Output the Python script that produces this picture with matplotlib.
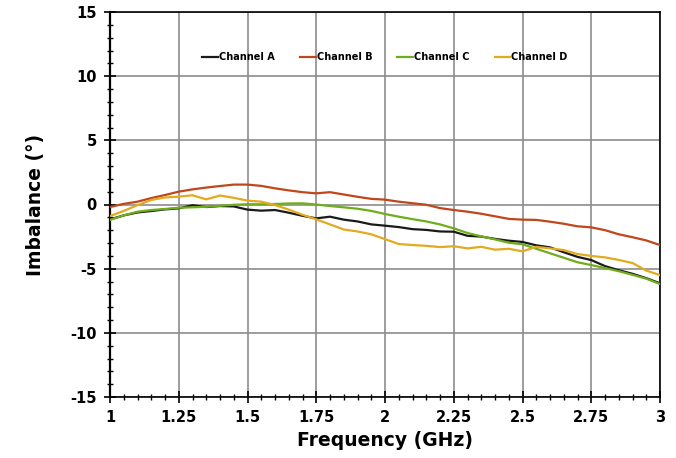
import matplotlib
matplotlib.use("Agg")
import matplotlib.pyplot as plt
from matplotlib.ticker import MultipleLocator, FixedLocator

freq = [1.00, 1.05, 1.10, 1.15, 1.20, 1.25, 1.30, 1.35, 1.40, 1.45,
        1.50, 1.55, 1.60, 1.65, 1.70, 1.75, 1.80, 1.85, 1.90, 1.95,
        2.00, 2.05, 2.10, 2.15, 2.20, 2.25, 2.30, 2.35, 2.40, 2.45,
        2.50, 2.55, 2.60, 2.65, 2.70, 2.75, 2.80, 2.85, 2.90, 2.95, 3.00]

channel_a = [-1.16, -0.85, -0.62, -0.51, -0.38, -0.30, -0.06, -0.20, -0.12, -0.15,
             -0.40, -0.48, -0.43, -0.64, -0.88, -1.08, -0.95, -1.18, -1.32, -1.55,
             -1.65, -1.76, -1.92, -1.98, -2.10, -2.12, -2.44, -2.50, -2.68, -2.82,
             -2.92, -3.18, -3.34, -3.72, -4.08, -4.33, -4.80, -5.12, -5.40, -5.74, -6.14]

channel_b = [-0.20, 0.05, 0.22, 0.50, 0.74, 1.00, 1.18, 1.32, 1.44, 1.55,
             1.55, 1.45, 1.26, 1.10, 0.96, 0.87, 0.96, 0.78, 0.60, 0.44,
             0.38, 0.22, 0.10, -0.02, -0.28, -0.43, -0.56, -0.72, -0.92, -1.12,
             -1.18, -1.20, -1.34, -1.50, -1.70, -1.78, -2.00, -2.32, -2.55, -2.80, -3.16]

channel_c = [-1.20, -0.85, -0.56, -0.43, -0.35, -0.25, -0.22, -0.18, -0.10, -0.02,
             0.02, 0.02, 0.04, 0.08, 0.09, 0.00, -0.12, -0.22, -0.33, -0.50,
             -0.74, -0.95, -1.14, -1.32, -1.55, -1.86, -2.22, -2.48, -2.72, -2.98,
             -3.10, -3.45, -3.80, -4.15, -4.50, -4.72, -4.95, -5.20, -5.48, -5.78, -6.20]

channel_d = [-0.90, -0.50, -0.05, 0.35, 0.55, 0.61, 0.72, 0.40, 0.70, 0.52,
             0.30, 0.22, -0.04, -0.40, -0.80, -1.16, -1.55, -1.95, -2.10, -2.32,
             -2.70, -3.08, -3.16, -3.22, -3.32, -3.25, -3.42, -3.30, -3.52, -3.45,
             -3.65, -3.30, -3.42, -3.55, -3.86, -4.01, -4.12, -4.32, -4.56, -5.15, -5.50]

series = [("Channel A", channel_a, "#1a1a1a"),
          ("Channel B", channel_b, "#c0461b"),
          ("Channel C", channel_c, "#6fad1c"),
          ("Channel D", channel_d, "#e2aa1e")]

x_ticks = [1, 1.25, 1.5, 1.75, 2, 2.25, 2.5, 2.75, 3]
x_tick_labels = ["1", "1.25", "1.5", "1.75", "2", "2.25", "2.5", "2.75", "3"]
y_ticks = [-15, -10, -5, 0, 5, 10, 15]

plt.rcParams['font.family'] = ['DejaVu Sans']
plt.rcParams['axes.unicode_minus'] = False
fig = plt.figure(figsize=(6.76, 4.58), dpi=100)
ax = fig.add_axes([110/676, 1-397/458, 550/676, 385/458])

for name, vals, col in series:
    ax.plot(freq, vals, color=col, lw=1.6, label=name, zorder=3)

ax.set_xlim(1, 3)
ax.set_ylim(-15, 15)
ax.xaxis.set_major_locator(FixedLocator(x_ticks))
ax.set_xticklabels(x_tick_labels)
ax.xaxis.set_minor_locator(MultipleLocator(0.05))
ax.yaxis.set_major_locator(FixedLocator(y_ticks))
ax.yaxis.set_minor_locator(MultipleLocator(1))

ax.grid(True, which='major', color='#8c8c8c', lw=1.2, zorder=1)
ax.tick_params(which='major', direction='inout', length=9, width=1.2,
               labelsize=10.5, pad=5, colors='black')
ax.tick_params(which='minor', direction='inout', length=5, width=1.0)
ax.tick_params(axis='x', which='both', top=False)
ax.tick_params(axis='y', which='both', right=False)
for lab in ax.get_xticklabels() + ax.get_yticklabels():
    lab.set_fontweight('bold')

for s in ['top', 'right', 'bottom']:
    ax.spines[s].set_linewidth(1.2)
ax.spines['left'].set_linewidth(1.6)

ax.set_xlabel("Frequency (GHz)", fontsize=13.5, fontweight='bold', labelpad=4)
ax.set_ylabel("Imbalance (°)", fontsize=13.5, fontweight='bold', labelpad=18)

leg = ax.legend(loc='center', bbox_to_anchor=(0.5, 0.883), ncol=4,
                frameon=False, fontsize=7, handlelength=1.6, handletextpad=0.1,
                columnspacing=2.6, borderaxespad=0)
for t in leg.get_texts():
    t.set_fontweight('bold')

fig.savefig("out.png", dpi=100, facecolor='white')
